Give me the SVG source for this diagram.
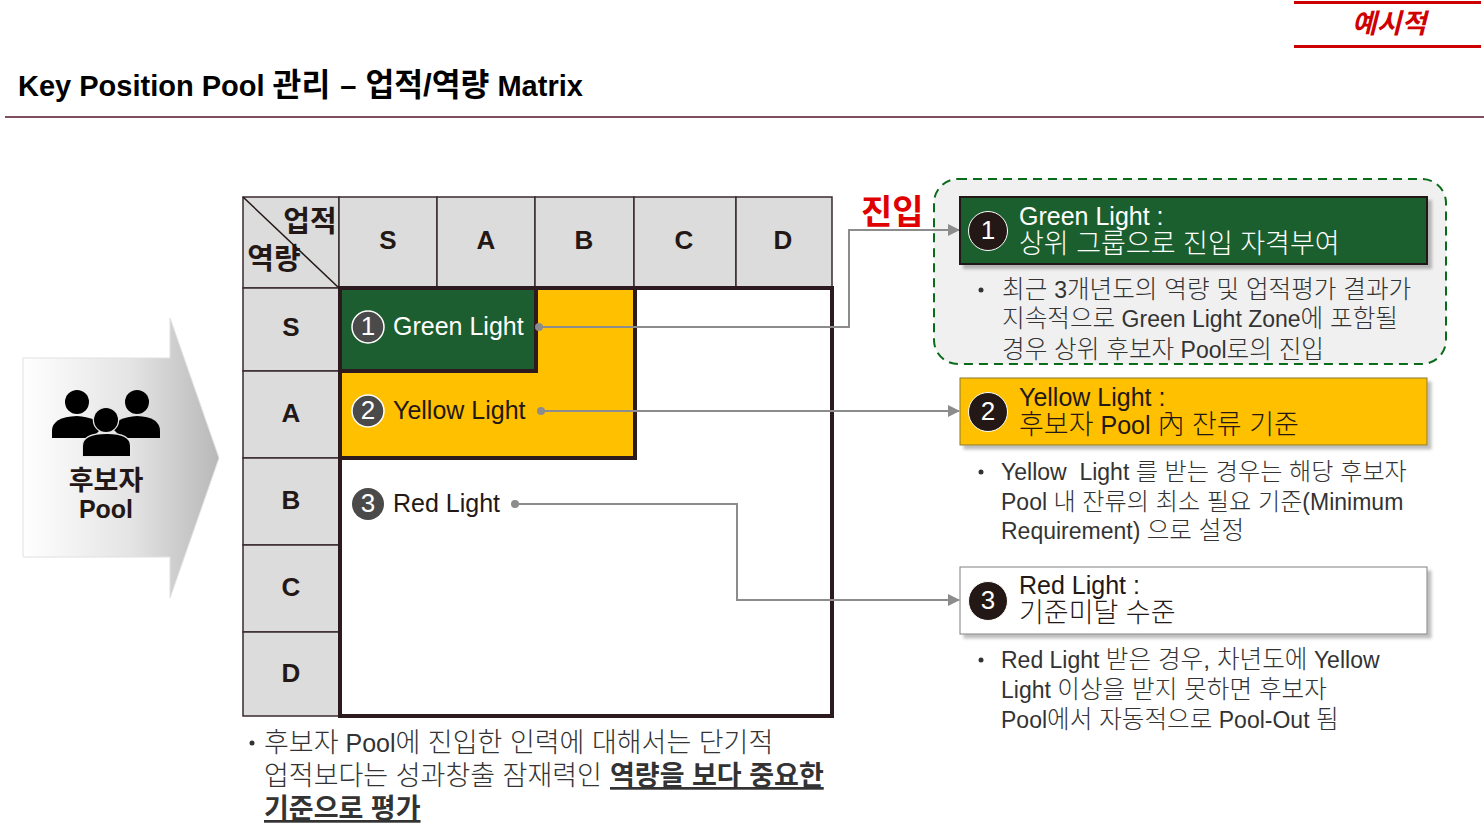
<svg xmlns="http://www.w3.org/2000/svg" width="1484" height="837" viewBox="0 0 1484 837">
<style>
text{font-family:"Liberation Sans","Noto Sans CJK KR",sans-serif;fill:#231815}
.k{font-size:1.08em}
.l{font-size:1.08em;font-weight:300}
.b .l{font-size:1.07em}
.b .s{font-size:1.05em;font-weight:300}
.hdr{font-size:26px;font-weight:700;text-anchor:middle}
.c{font-size:25px;fill:#333}
.w{fill:#fff}
.b{font-size:23px;fill:#333}
.n{font-size:26px;fill:#fff;text-anchor:middle}
.g{fill:#dcdcdc;stroke:#3a2a2e;stroke-width:1.5}
.conn{fill:none;stroke:#8c8c8c;stroke-width:2}
.dot{fill:#8c8c8c}
.bad{fill:#4a4a4a;stroke:#fff;stroke-width:1.5}
.bk{fill:#231815;stroke:#fff;stroke-width:1}
</style>
<defs>
<linearGradient id="ag" x1="0" x2="1" y1="0" y2="0"><stop offset="0" stop-color="#fff"/><stop offset=".55" stop-color="#e4e4e4"/><stop offset="1" stop-color="#b8b8b8"/></linearGradient>
<marker id="ah" markerWidth="12" markerHeight="12" refX="11" refY="6" orient="auto" markerUnits="userSpaceOnUse"><path d="M0 0L12 6L0 12z" fill="#8c8c8c"/></marker>
<filter id="sh" x="-5%" y="-10%" width="110%" height="130%"><feDropShadow dx="4" dy="4" stdDeviation="1.5" flood-color="#000" flood-opacity=".25"/></filter>
</defs>
<g id="stamp">
<rect x="1294" y="1" width="187" height="3" fill="#cc0000"/>
<rect x="1294" y="45" width="187" height="3" fill="#cc0000"/>
<text x="1389" y="33" font-size="27" font-weight="700" font-style="italic" text-anchor="middle" style="fill:#d00000">예시적</text>
</g>
<g id="title">
<text x="18" y="96" font-size="29" font-weight="700" style="fill:#000">Key Position Pool <tspan class="k">관리</tspan><tspan dx="2"> – </tspan><tspan class="k" dx="1">업적/역량</tspan> Matrix</text>
<rect x="5" y="116" width="1479" height="2" fill="#7f4f5f"/>
</g>
<g id="pool">
<path d="M23 358H170V318L219 458L170 598V557H23Z" fill="url(#ag)" stroke="#e0e0e0"/>
<g fill="#000">
<circle cx="77" cy="402" r="12"/><circle cx="137" cy="402" r="12"/>
<path d="M52 438V431Q52 417 77 416Q97 417 102 428L92 438Z"/>
<path d="M160 438V431Q160 417 137 416Q117 417 112 428L122 438Z"/>
<path d="M83 456V446Q83 434 107 434Q130 434 130 446V456Z" stroke="#e6e6e6" stroke-width="2.5" paint-order="stroke"/>
<circle cx="106" cy="420" r="12" stroke="#e6e6e6" stroke-width="2.5" paint-order="stroke"/>
</g>
<text x="106" y="490" font-size="27" font-weight="700" text-anchor="middle">후보자</text>
<text x="106" y="518" font-size="25" font-weight="700" text-anchor="middle">Pool</text>
</g>
<g id="matrix-header">
<rect class="g" x="243" y="197" width="96" height="91"/>
<path d="M243 197L339 288" stroke="#231815" stroke-width="1.5" fill="none"/>
<text x="310" y="232" font-size="29" font-weight="700" text-anchor="middle">업적</text>
<text x="274" y="269" font-size="29" font-weight="700" text-anchor="middle">역량</text>
<rect class="g" x="339" y="197" width="98" height="91"/><text class="hdr" x="388" y="249">S</text>
<rect class="g" x="437" y="197" width="98" height="91"/><text class="hdr" x="486" y="249">A</text>
<rect class="g" x="535" y="197" width="99" height="91"/><text class="hdr" x="584" y="249">B</text>
<rect class="g" x="634" y="197" width="102" height="91"/><text class="hdr" x="684" y="249">C</text>
<rect class="g" x="736" y="197" width="96" height="91"/><text class="hdr" x="783" y="249">D</text>
<rect class="g" x="243" y="288" width="96" height="83"/><text class="hdr" x="291" y="336">S</text>
<rect class="g" x="243" y="371" width="96" height="87"/><text class="hdr" x="291" y="422">A</text>
<rect class="g" x="243" y="458" width="96" height="87"/><text class="hdr" x="291" y="509">B</text>
<rect class="g" x="243" y="545" width="96" height="87"/><text class="hdr" x="291" y="596">C</text>
<rect class="g" x="243" y="632" width="96" height="84"/><text class="hdr" x="291" y="682">D</text>
</g>
<g id="matrix-body">
<rect x="340" y="288" width="492" height="428" fill="#fff"/>
<path d="M340 288H635V458H340Z" fill="#ffc000" stroke="#2d1a1f" stroke-width="4"/>
<path d="M340 288H536V371H340Z" fill="#1c5e2f" stroke="#2d1a1f" stroke-width="4"/>
<rect x="340" y="288" width="492" height="428" fill="none" stroke="#2d1a1f" stroke-width="4"/>
</g>
<g id="zone-green">
<rect x="934" y="179" width="512" height="185" rx="24" fill="#f0f0f0" stroke="#0a6b1a" stroke-width="2" stroke-dasharray="9 6"/>
</g>
<g id="connectors">
<path class="conn" d="M540 327H849V230H959" marker-end="url(#ah)"/>
<path class="conn" d="M541 411H959" marker-end="url(#ah)"/>
<path class="conn" d="M515 504H737V600H959" marker-end="url(#ah)"/>
<circle class="dot" cx="539" cy="327" r="4"/>
<circle class="dot" cx="541" cy="411" r="4"/>
<circle class="dot" cx="515" cy="504" r="4"/>
</g>
<g id="label-green">
<circle class="bad" cx="368" cy="327" r="16"/><text class="n" x="368" y="335">1</text>
<text x="393" y="335" font-size="25" class="w">Green Light</text>
</g>
<g id="label-yellow">
<circle class="bad" cx="368" cy="411" r="16"/><text class="n" x="368" y="419">2</text>
<text x="393" y="419" font-size="25">Yellow Light</text>
</g>
<g id="label-red">
<circle cx="368" cy="504" r="16" fill="#4a4a4a"/><text class="n" x="368" y="512">3</text>
<text x="393" y="512" font-size="25">Red Light</text>
</g>
<text x="861" y="224" font-size="34" font-weight="700" style="fill:#e00000">진입</text>
<g id="box-green">
<rect x="960" y="197" width="467" height="67" fill="#1c5e2f" stroke="#231815" stroke-width="2" filter="url(#sh)"/>
<circle class="bk" cx="988" cy="231" r="19.5"/><text class="n" x="988" y="239">1</text>
<text x="1019" y="225" font-size="25" class="w">Green Light :</text>
<text x="1019" y="253" font-size="25" class="w"><tspan class="l">상위 그룹으로 진입 자격부여</tspan></text>
</g>
<circle cx="981" cy="290" r="2.5" fill="#333"/>
<text class="b" x="1002" y="298"><tspan class="l">최근 </tspan>3<tspan class="l">개년도의 역량 및 업적평가 결과가</tspan></text>
<text class="b" x="1002" y="327"><tspan class="l">지속적으로</tspan> Green Light Zone<tspan class="l">에 포함될</tspan></text>
<text class="b" x="1002" y="358"><tspan class="l">경우 상위 후보자</tspan> Pool<tspan class="l">로의 진입</tspan></text>
<g id="box-yellow">
<rect x="960" y="378" width="467" height="67" fill="#ffc000" stroke="#8a7a30" stroke-width="1" filter="url(#sh)"/>
<circle class="bk" cx="988" cy="412" r="19.5"/><text class="n" x="988" y="420">2</text>
<text x="1019" y="406" font-size="25">Yellow Light :</text>
<text x="1019" y="434" font-size="25"><tspan class="l">후보자</tspan> Pool <tspan class="l">內 잔류 기준</tspan></text>
</g>
<circle cx="981" cy="472" r="2.5" fill="#333"/>
<text class="b" x="1001" y="480" xml:space="preserve">Yellow  Light <tspan class="s">를 받는 경우는 해당 후보자</tspan></text>
<text class="b" x="1001" y="510">Pool <tspan class="s">내 잔류의 최소 필요 기준</tspan>(Minimum</text>
<text class="b" x="1001" y="539">Requirement) <tspan class="l">으로 설정</tspan></text>
<g id="box-red">
<rect x="960" y="567" width="467" height="67" fill="#fff" stroke="#808080" stroke-width="1" filter="url(#sh)"/>
<circle class="bk" cx="988" cy="601" r="19.5"/><text class="n" x="988" y="609">3</text>
<text x="1019" y="594" font-size="25">Red Light :</text>
<text x="1019" y="622" font-size="25"><tspan class="l">기준미달 수준</tspan></text>
</g>
<circle cx="981" cy="660" r="2.5" fill="#333"/>
<text class="b" x="1001" y="668">Red Light <tspan class="l">받은 경우, 차년도에</tspan> Yellow</text>
<text class="b" x="1001" y="698">Light <tspan class="l">이상을 받지 못하면 후보자</tspan></text>
<text class="b" x="1001" y="728">Pool<tspan class="l">에서 자동적으로</tspan> Pool-Out <tspan class="l">됨</tspan></text>
<g id="footnote">
<circle cx="252" cy="743" r="2.5" fill="#333"/>
<text class="c" x="264" y="752"><tspan class="l">후보자</tspan> Pool<tspan class="l">에 진입한 인력에 대해서는 단기적</tspan></text>
<text class="c" x="264" y="785"><tspan class="l">업적보다는 성과창출 잠재력인</tspan></text>
<text class="c" x="610" y="785" font-weight="700" text-decoration="underline"><tspan class="k">역량을 보다 중요한</tspan></text>
<text class="c" x="264" y="818" font-weight="700" text-decoration="underline"><tspan class="k">기준으로 평가</tspan></text>
</g>
</svg>
